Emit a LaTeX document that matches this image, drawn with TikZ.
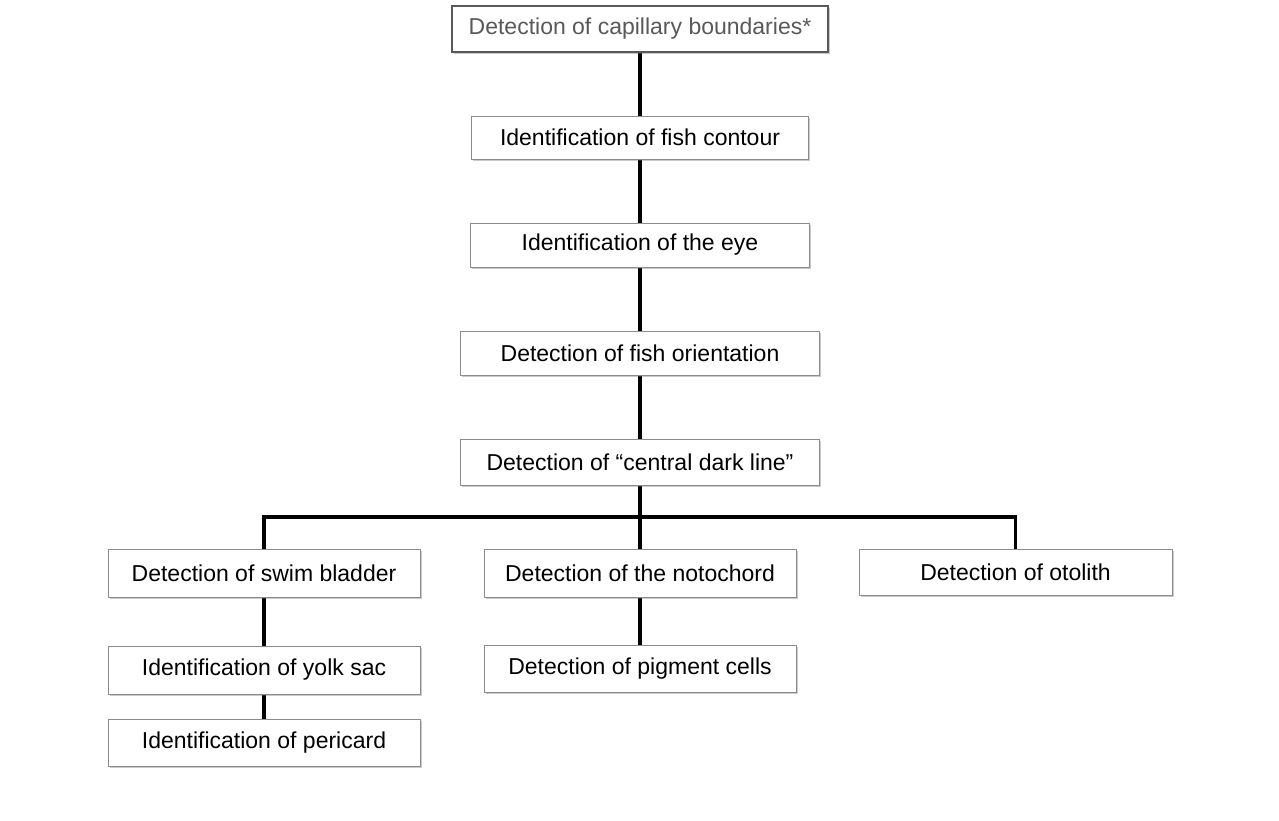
\documentclass[tikz,border=0pt]{standalone}
\usepackage{fontspec}
\setmainfont{Liberation Sans}
\usetikzlibrary{shadows,backgrounds}
\begin{document}
\begin{tikzpicture}[x=1pt,y=-1pt,
  box/.style={draw=black!45, line width=0.9pt, fill=white, font=\fontsize{23}{26}\selectfont,
    inner sep=0pt, anchor=center,
    drop shadow={shadow xshift=1.5pt, shadow yshift=-2pt, opacity=0.35, fill=black!60}},
  topbox/.style={box, draw=black!65, line width=1.4pt, text=black!65},
  link/.style={line width=3.8pt, black, line join=miter}]
\useasboundingbox (0,0) rectangle (1279,820);
\node[topbox, minimum width=376pt, minimum height=46pt] (cap) at (640,29) {Detection of capillary boundaries*};
\node[box, minimum width=337pt, minimum height=43pt] (contour) at (640,137.5) {Identification of fish contour};
\node[box, minimum width=339pt, minimum height=44pt] (eye) at (640,245) {Identification of the eye};
\node[box, minimum width=359pt, minimum height=44pt] (orient) at (640,353) {Detection of fish orientation};
\node[box, minimum width=359pt, minimum height=46pt] (cdl) at (640,462) {Detection of “central dark line”};
\node[box, minimum width=312pt, minimum height=48pt] (swim) at (264,573) {Detection of swim bladder};
\node[box, minimum width=312pt, minimum height=48pt] (noto) at (640,573) {Detection of the notochord};
\node[box, minimum width=313pt, minimum height=46pt] (oto) at (1015.5,572) {Detection of otolith};
\node[box, minimum width=312pt, minimum height=48pt] (yolk) at (264,670) {Identification of yolk sac};
\node[box, minimum width=312pt, minimum height=47pt] (pig) at (640,668.5) {Detection of pigment cells};
\node[box, minimum width=312pt, minimum height=47pt] (peri) at (264,742.5) {Identification of pericard};
\coordinate (split) at (640,517);
\begin{scope}[on background layer]
\draw[link] (cap.south) -- (contour.north);
\draw[link] (contour.south) -- (eye.north);
\draw[link] (eye.south) -- (orient.north);
\draw[link] (orient.south) -- (cdl.north);
\draw[link] (cdl.south) -- (noto.north);
\draw[link] (swim.north) |- (split) -| (oto.north);
\draw[link] (swim.south) -- (yolk.north);
\draw[link] (yolk.south) -- (peri.north);
\draw[link] (noto.south) -- (pig.north);
\end{scope}
\end{tikzpicture}
\end{document}
